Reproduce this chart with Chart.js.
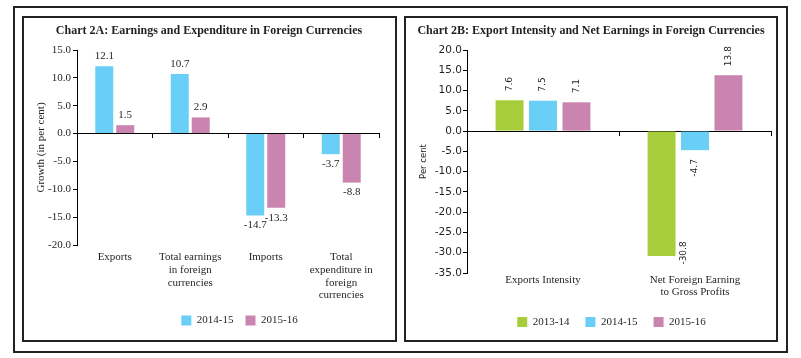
<!DOCTYPE html>
<html>
<head>
<meta charset="utf-8">
<script src="https://cdn.jsdelivr.net/npm/chart.js@4.4.1/dist/chart.umd.min.js"></script>
<style>
  body { margin: 0; background: #fff; }
  .frame { position: absolute; box-sizing: border-box; border: 2px solid #222; }
  canvas { position: absolute; }
</style>
</head>
<body>
<div class="frame" style="left:13px;top:6px;width:775px;height:347px"></div>
<div class="frame" style="left:22px;top:16px;width:375px;height:326px"></div>
<div class="frame" style="left:404px;top:16px;width:374px;height:326px"></div>
<canvas id="chart-2a" width="370" height="322" style="left:24px;top:18px"></canvas>
<canvas id="chart-2b" width="370" height="322" style="left:406px;top:18px"></canvas>
<script>
// Chart 2A data
const labelsA = [["Exports"], ["Total earnings", "in foreign", "currencies"], ["Imports"], ["Total", "expenditure in", "foreign", "currencies"]];
const growth1415 = [12.1, 10.7, -14.7, -3.7];
const growth1516 = [1.5, 2.9, -13.3, -8.8];
const yMinA = -20;
const yMaxA = 15;

// Chart 2B data
const labelsB = [["Exports Intensity"], ["Net Foreign Earning", "to Gross Profits"]];
const ratio1314 = [7.6, -30.8];
const ratio1415 = [7.5, -4.7];
const ratio1516 = [7.1, 13.8];
const yMinB = -35;
const yMaxB = 20;

const yStep = 5;

const green = "#a8cd3a";
const blue = "#6acff6";
const pink = "#c984b0";
const ink = "#231f20";

Chart.defaults.font.family = "'Liberation Serif', serif";
Chart.defaults.color = ink;

// value labels next to the bar ends
const barValues = {
	id: "barValues",
	afterDatasetsDraw(chart, args, opts) {
		const { ctx, chartArea } = chart;
		ctx.save();
		ctx.font = opts.font;
		ctx.fillStyle = ink;
		ctx.textAlign = "center";
		ctx.textBaseline = "middle";
		chart.data.datasets.forEach((ds, i) => {
			chart.getDatasetMeta(i).data.forEach((bar, j) => {
				const v = ds.data[j];
				const text = v.toFixed(1);
				const dir = v < 0 ? 1 : -1;
				if (opts.rotate) {
					const w = ctx.measureText(text).width;
					let x = bar.x;
					let y = bar.y + dir * (opts.gap + w / 2);
					if (y + w / 2 > chartArea.bottom) {
						// no room below: put it beside the bar end
						x = bar.x + bar.width / 2 + 8;
						y = bar.y - 3;
					}
					ctx.save();
					ctx.translate(x, y);
					ctx.rotate(-Math.PI / 2);
					ctx.fillText(text, 0, 0);
					ctx.restore();
				} else {
					ctx.fillText(text, bar.x, bar.y + dir * opts.gap);
				}
			});
		});
		ctx.restore();
	},
};

// nudge legend and title (done once, right before the first draw)
const boxShift = {
	id: "boxShift",
	beforeDraw(chart, args, opts) {
		if (chart._moved) return;
		const lg = chart.legend;
		lg.left += opts.legendDx;
		lg.right += opts.legendDx;
		lg.top += opts.legendDy;
		lg.bottom += opts.legendDy;
		const tb = chart.titleBlock;
		tb.left += opts.titleDx;
		tb.right += opts.titleDx;
		chart._moved = true;
	},
};

function makeChart(canvas, cfg) {
	return new Chart(canvas, {
		type: "bar",
		data: { labels: cfg.labels, datasets: cfg.datasets },
		plugins: [barValues, boxShift],
		options: {
			responsive: false,
			animation: false,
			devicePixelRatio: 1,
			layout: { padding: { left: 0, right: cfg.padRight, top: 0, bottom: cfg.padBottom } },
			datasets: { bar: { categoryPercentage: cfg.catPct, barPercentage: cfg.barPct } },
			scales: {
				x: {
					grid: { display: false, drawTicks: false, tickLength: 0 },
					border: { display: false },
					ticks: { padding: cfg.xPad, maxRotation: 0, autoSkip: false, font: { size: 11, lineHeight: cfg.xLine } },
					afterFit: (s) => { s.height = cfg.xHeight; },
				},
				x2: {
					type: "category",
					labels: cfg.labels,
					position: { y: 0 },
					offset: true,
					grid: { offset: true, drawOnChartArea: false, tickLength: 4, color: "#000" },
					border: { color: "#000", width: 1 },
					ticks: { display: false },
				},
				y: {
					min: cfg.yMin,
					max: cfg.yMax,
					ticks: { stepSize: yStep, padding: cfg.yTickPad, font: cfg.yTickFont, callback: (v) => v.toFixed(1) },
					grid: { drawOnChartArea: false, tickLength: 4, color: "#000" },
					border: { color: "#000" },
					title: { display: true, text: cfg.yTitle, font: cfg.yTitleFont, padding: { top: cfg.yTitlePad, bottom: 0 } },
					afterFit: (s) => { s.width = cfg.yWidth; },
				},
			},
			plugins: {
				title: {
					display: true,
					text: cfg.title,
					color: ink,
					font: { size: 12, weight: "bold" },
					padding: { top: 6, bottom: 11.6 },
				},
				legend: {
					position: "bottom",
					labels: { boxWidth: 10, boxHeight: 10, padding: cfg.legendPad, font: { size: 11 } },
				},
				tooltip: { enabled: false },
				barValues: cfg.values,
				boxShift: { legendDx: cfg.legendDx, legendDy: cfg.legendDy, titleDx: cfg.padRight / 2 },
			},
		},
	});
}

makeChart(document.getElementById("chart-2a"), {
	title: "Chart 2A: Earnings and Expenditure in Foreign Currencies",
	labels: labelsA,
	datasets: [
		{ label: "2014-15", data: growth1415, backgroundColor: blue },
		{ label: "2015-16", data: growth1516, backgroundColor: pink },
	],
	yMin: yMinA,
	yMax: yMaxA,
	yTitle: "Growth (in per cent)",
	yTitleFont: { size: 11 },
	yTitlePad: 11,
	yTickFont: { size: 11 },
	yTickPad: 2,
	yWidth: 53,
	xPad: 6,
	xLine: 1.15,
	xHeight: 58,
	padRight: 15,
	padBottom: 4,
	catPct: 0.556,
	barPct: 0.857,
	legendPad: 12,
	legendDx: 38,
	legendDy: 0,
	values: { font: "11px 'Liberation Serif'", gap: 10, rotate: false },
});

makeChart(document.getElementById("chart-2b"), {
	title: "Chart 2B: Export Intensity and Net Earnings in Foreign Currencies",
	labels: labelsB,
	datasets: [
		{ label: "2013-14", data: ratio1314, backgroundColor: green },
		{ label: "2014-15", data: ratio1415, backgroundColor: blue },
		{ label: "2015-16", data: ratio1516, backgroundColor: pink },
	],
	yMin: yMinB,
	yMax: yMaxB,
	yTitle: "Per cent",
	yTitleFont: { family: "'DejaVu Sans', sans-serif", size: 8.5 },
	yTitlePad: 13,
	yTickFont: { family: "'DejaVu Sans', sans-serif", size: 10.5 },
	yTickPad: 1,
	yWidth: 61,
	xPad: 1,
	xLine: 1.1,
	xHeight: 26,
	padRight: 5,
	padBottom: 4,
	catPct: 0.66,
	barPct: 0.836,
	legendPad: 16,
	legendDx: 23,
	legendDy: 1.5,
	values: { font: "9px 'DejaVu Sans'", gap: 9, rotate: true },
});
</script>
</body>
</html>
